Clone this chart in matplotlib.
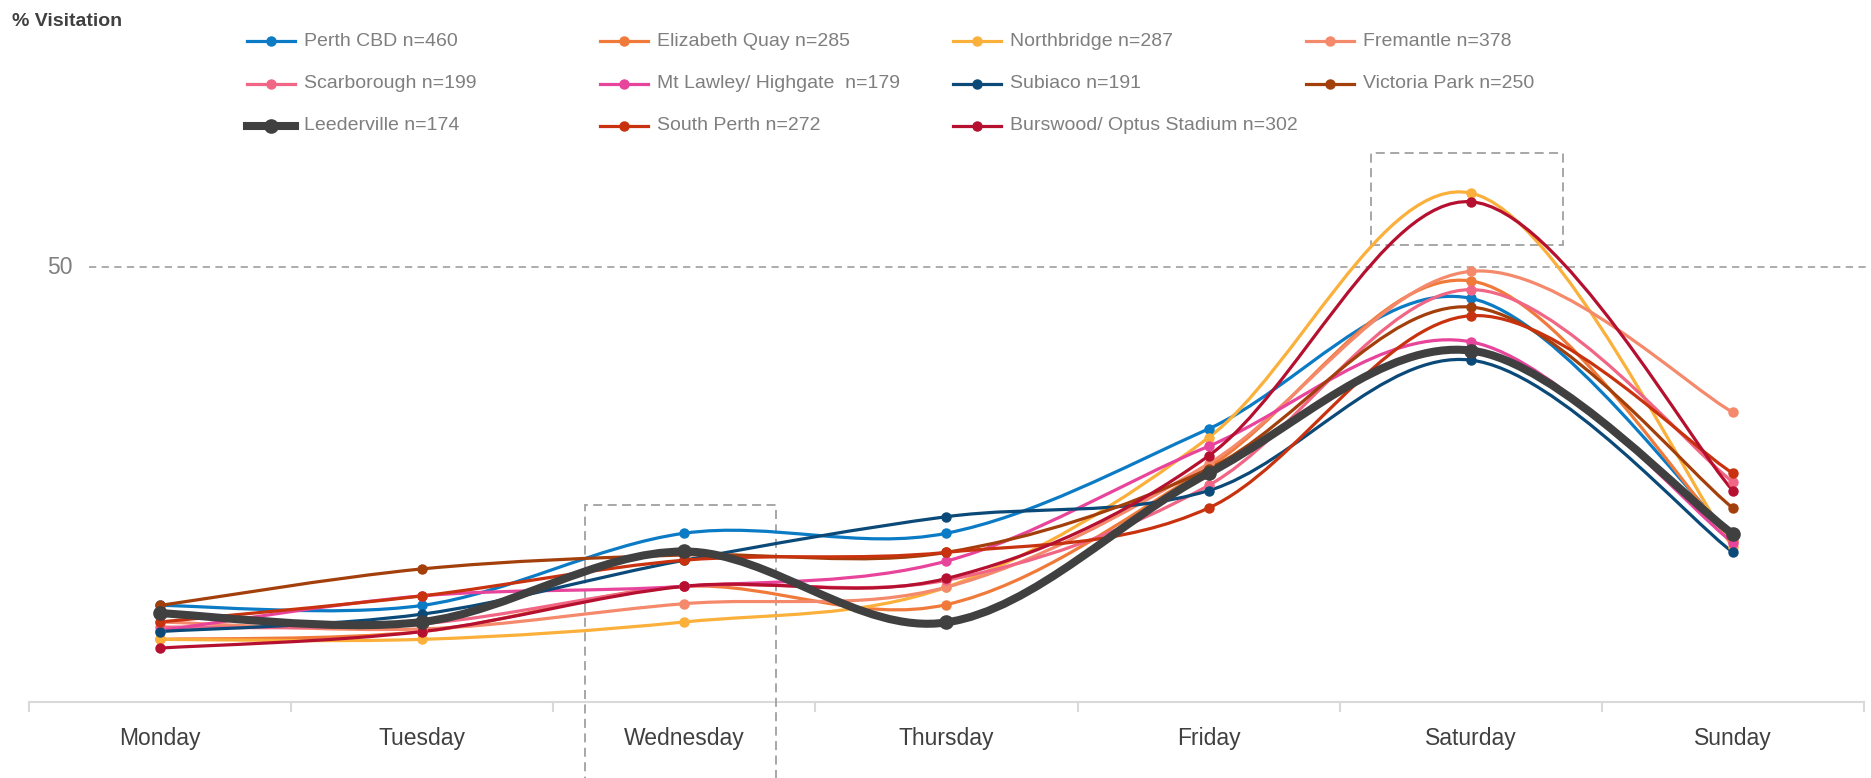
#!/usr/bin/env python
# -*- coding: utf-8 -*-
import sys
import numpy as np
import matplotlib as mpl
mpl.use("Agg")
import matplotlib.pyplot as plt
from matplotlib.path import Path
from matplotlib.patches import PathPatch, Rectangle
from matplotlib.lines import Line2D

days = ["Monday", "Tuesday", "Wednesday", "Thursday", "Friday", "Saturday", "Sunday"]

names = ["Perth CBD n=460", "Elizabeth Quay n=285", "Northbridge n=287", "Fremantle n=378",
         "Scarborough n=199", "Mt Lawley/ Highgate  n=179", "Subiaco n=191", "Victoria Park n=250",
         "Leederville n=174", "South Perth n=272", "Burswood/ Optus Stadium n=302"]

perth_cbd = [11.1, 11.1, 19.4, 19.4, 31.4, 46.4, 19.0]
elizabeth_quay = [7.2, 8.1, 13.3, 11.2, 27.0, 48.4, 18.5]
northbridge = [7.2, 7.2, 9.2, 13.2, 30.4, 58.5, 17.8]
fremantle = [9.2, 8.4, 11.3, 13.2, 27.4, 49.5, 33.3]
scarborough = [8.6, 9.0, 13.3, 14.0, 24.9, 47.4, 25.3]
mt_lawley = [8.2, 12.2, 13.3, 16.2, 29.4, 41.4, 18.3]
subiaco = [8.1, 10.1, 16.3, 21.3, 24.3, 39.3, 17.2]
victoria_park = [11.1, 15.3, 16.9, 17.2, 26.8, 45.4, 22.3]
leederville = [10.2, 9.2, 17.3, 9.15, 26.3, 40.4, 19.3]
south_perth = [9.2, 12.2, 16.3, 17.2, 22.3, 44.4, 26.3]
burswood = [6.2, 8.1, 13.3, 14.2, 28.3, 57.5, 24.3]

series = [perth_cbd, elizabeth_quay, northbridge, fremantle, scarborough, mt_lawley,
          subiaco, victoria_park, leederville, south_perth, burswood]
colors = ["#0a7bc4", "#f07a3a", "#fbb03b", "#f4896b", "#f06684", "#e8449c",
          "#0b4a78", "#a33f0b", "#404040", "#c8320f", "#b5102f"]

W, H = 1871, 778
FONT = ["Liberation Sans Narrow", "Liberation Sans", "DejaVu Sans"]


def smooth_path(xs, ys):
  # Excel-like smoothed line (Catmull-Rom as cubic Bezier)
  pts = np.column_stack([xs, ys]).astype(float)
  n = len(pts)
  verts = [pts[0]]
  codes = [Path.MOVETO]
  for i in range(n - 1):
    p0 = pts[max(i - 1, 0)]
    p1 = pts[i]
    p2 = pts[i + 1]
    p3 = pts[min(i + 2, n - 1)]
    c1 = p1 + (p2 - p0) / 6.0
    c2 = p2 - (p3 - p1) / 6.0
    verts += [c1, c2, p2]
    codes += [Path.CURVE4] * 3
  return Path(verts, codes)


def fx(px):
  return px / W


def fy(py):
  return 1 - py / H


def main():
  plt.rcParams['font.family'] = FONT
  fig = plt.figure(figsize=(W / 100, H / 100), dpi=100)
  # axes: x -0.5..6.5 spans px 29..1864, y 0 at px 702, 8.7 px per unit
  ax = fig.add_axes([fx(29), fy(702), fx(1864 - 29), 702 / H])
  ax.set_xlim(-0.5, 6.5)
  ax.set_ylim(0, 702 / 8.7)
  for s in ax.spines.values():
    s.set_visible(False)
  ax.set_xticks([])
  ax.set_yticks([])

  x = np.arange(len(days))
  # Draw series
  for vals, c, name in zip(series, colors, names):
    lead = name.startswith("Leederville")
    lw = 5.8 if lead else 2.3
    ms = 9.5 if lead else 6.5
    z = 5 if lead else 3
    ax.add_patch(PathPatch(smooth_path(x, vals), facecolor="none", edgecolor=c, lw=lw, zorder=z,
                           capstyle="round"))
    ax.plot(x, vals, linestyle="none", marker="o", ms=ms, color=c, zorder=z + 0.5)

  # 50 reference line
  ax.plot([-0.27, 6.55], [50, 50], color="#a6a6a6", lw=1.3, ls=(0, (4, 3)), clip_on=False, zorder=1)
  ax.text(-0.335, 50, "50", ha="right", va="center", fontsize=16.5, color="#808080")

  # x axis with category boundaries
  ax.plot([-0.5, 6.5], [0, 0], color="#d9d9d9", lw=1.5, clip_on=False, zorder=1)
  for b in np.arange(-0.5, 7.0, 1.0):
    ax.plot([b, b], [0, -1.0], color="#d9d9d9", lw=1.5, clip_on=False, zorder=1)
  for i, d in enumerate(days):
    ax.text(i, -4.2, d, ha="center", va="center", fontsize=16.5, color="#404040")

  # highlight boxes
  ax.add_patch(Rectangle((1.62, -12), 0.73, 22.6 + 12, fill=False, ec="#a0a0a0", lw=1.3,
                         ls=(0, (5, 3)), clip_on=False, zorder=2))
  ax.add_patch(Rectangle((4.62, 52.5), 0.73, 63.1 - 52.5, fill=False, ec="#a0a0a0", lw=1.3,
                         ls=(0, (5, 3)), clip_on=False, zorder=2))

  # title
  fig.text(fx(12), fy(21), "% Visitation", fontsize=14, fontweight="bold", color="#404040",
           ha="left", va="center")

  # legend (row-wise, 4 columns)
  for i, (name, c) in enumerate(zip(names, colors)):
    row, col = i // 4, i % 4
    x0 = 247 + col * 353
    y0 = 41 + row * 42.5
    lead = name.startswith("Leederville")
    fig.add_artist(Line2D([fx(x0), fx(x0 + 48)], [fy(y0), fy(y0)], color=c,
                          lw=5.8 if lead else 2.3, transform=fig.transFigure))
    fig.add_artist(Line2D([fx(x0 + 24)], [fy(y0)], color=c, marker="o", ms=9.5 if lead else 6.5,
                          transform=fig.transFigure))
    fig.text(fx(x0 + 57), fy(y0), name, fontsize=14, color="#7f7f7f", ha="left", va="center")

  plt.savefig("out.png", dpi=100)


if __name__ == "__main__":
  sys.exit(main())
